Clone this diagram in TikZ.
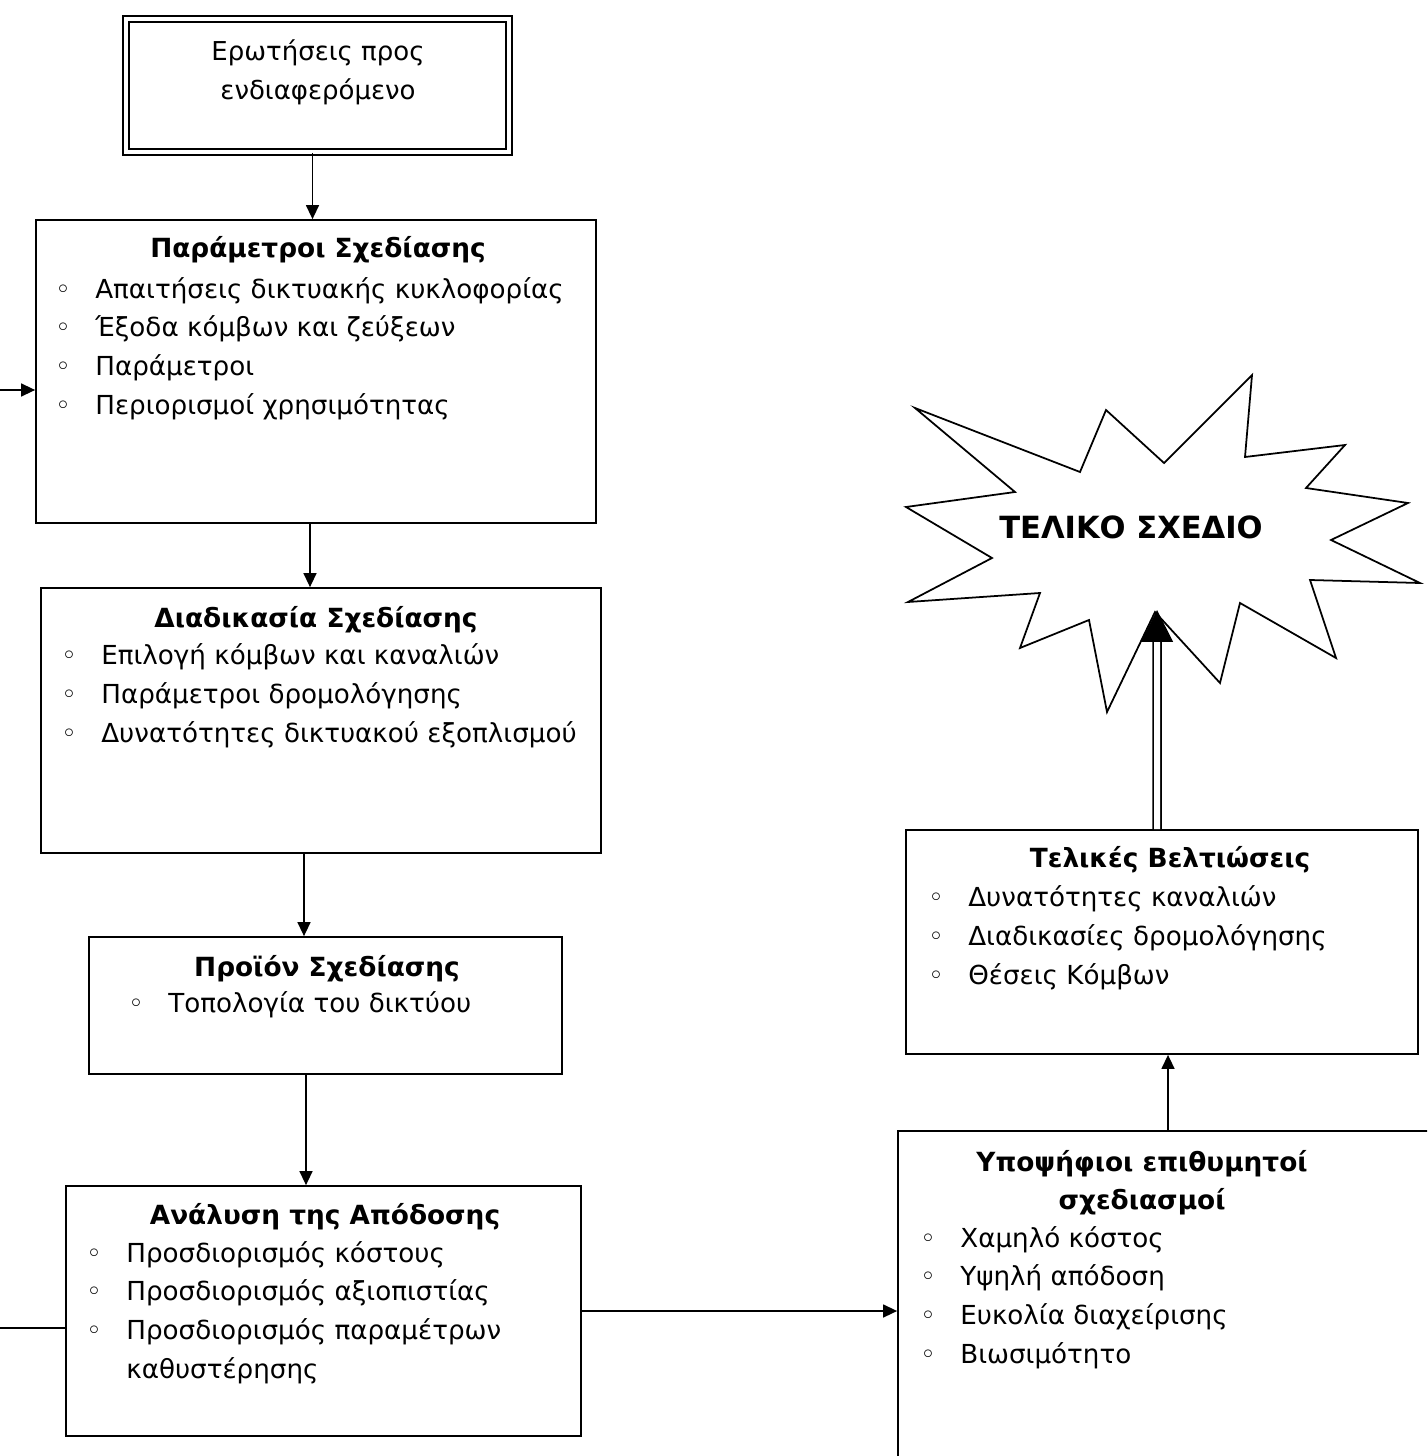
\documentclass[tikz,border=0pt]{standalone}
\usepackage{fontspec}
\setmainfont{DejaVu Sans}
\usepackage{tikz}
\usetikzlibrary{positioning, calc, arrows.meta, fit}

\newcommand{\bul}{\makebox[0.8cm][l]{◦}}
\newcommand{\nobul}{\makebox[0.8cm][l]{}}

\begin{document}
\begin{tikzpicture}[
    x=0.02cm, y=-0.02cm,
    box/.style={draw, line width=1pt, inner sep=0pt},
    qbox/.style={draw, double, double distance=0.08cm, line width=0.9pt, inner sep=0pt},
    boxtitle/.style={anchor=base, align=center, inner sep=0pt, font=\fontsize{15}{21.5}\selectfont\bfseries},
    itemlist/.style={anchor=base west, align=left, inner sep=0pt, font=\fontsize{14.9}{22}\selectfont},
    arr/.style={line width=0.8pt, -{Triangle[length=0.28cm, width=0.26cm]}},
    link/.style={line width=0.8pt},
  ]
    \useasboundingbox (0,0) rectangle (1427,1456);
    \clip (0,0) rectangle (1427,1456);
    % stakeholder questions (base = last line)
    \node[qbox, fit={(126,19) (509,152)}] (q) {};
    \node[anchor=base, align=center, inner sep=0pt, font=\fontsize{14.8}{22.7}\selectfont] (qtext) at (318,100) {Ερωτήσεις προς\\ενδιαφερόμενο};
    % design parameters
    \node[box, fit={(36,220) (596,523)}] (par) {};
    \node[boxtitle] (partitle) at (318,258) {Παράμετροι Σχεδίασης};
    \node[itemlist] (paritems) at (55,414) {\bul Απαιτήσεις δικτυακής κυκλοφορίας\\ \bul Έξοδα κόμβων και ζεύξεων\\ \bul Παράμετροι\\ \bul Περιορισμοί χρησιμότητας};
    % design procedure
    \node[box, fit={(41,588) (601,853)}] (proc) {};
    \node[boxtitle] (proctitle) at (316,627) {Διαδικασία Σχεδίασης};
    \node[itemlist] (procitems) at (61,742) {\bul Επιλογή κόμβων και καναλιών\\ \bul Παράμετροι δρομολόγησης\\ \bul Δυνατότητες δικτυακού εξοπλισμού};
    % design product
    \node[box, fit={(89,937) (562,1074)}] (prod) {};
    \node[boxtitle] (prodtitle) at (327,976) {Προϊόν Σχεδίασης};
    \node[itemlist] (proditems) at (128,1012) {\bul Τοπολογία του δικτύου};
    % performance analysis
    \node[box, fit={(66,1186) (581,1436)}] (anal) {};
    \node[boxtitle] (analtitle) at (325,1224) {Ανάλυση της Απόδοσης};
    \node[itemlist] (analitems) at (86,1378) {\bul Προσδιορισμός κόστους\\ \bul Προσδιορισμός αξιοπιστίας\\ \bul Προσδιορισμός παραμέτρων\\ \nobul καθυστέρησης};
    % candidate designs
    \node[box, fit={(898,1131) (1460,1480)}] (cand) {};
    \node[boxtitle] (candtitle) at (1142,1209) {Υποψήφιοι επιθυμητοί\\σχεδιασμοί};
    \node[itemlist] (canditems) at (920,1363) {\bul Χαμηλό κόστος\\ \bul Υψηλή απόδοση\\ \bul Ευκολία διαχείρισης\\ \bul Βιωσιμότητο};
    % final improvements
    \node[box, fit={(906,830) (1418,1054)}] (fin) {};
    \node[boxtitle] (fintitle) at (1170,867) {Τελικές Βελτιώσεις};
    \node[itemlist] (finitems) at (928,984) {\bul Δυνατότητες καναλιών\\ \bul Διαδικασίες δρομολόγησης\\ \bul Θέσεις Κόμβων};
    % final design burst
    \draw[line width=1pt, line join=miter] (915,408) -- (1015,492) -- (906,507) -- (992,558)
      -- (908,602) -- (1040,593) -- (1020,648) -- (1089,620) -- (1107,712) -- (1155,612)
      -- (1220,683) -- (1240,603) -- (1336,658) -- (1310,580) -- (1420,583) -- (1331,540)
      -- (1408,503) -- (1306,488) -- (1345,445) -- (1245,457) -- (1252,375) -- (1164,463)
      -- (1106,410) -- (1080,472) -- cycle;
    \node[font=\fontsize{17.4}{20}\selectfont\bfseries] (star) at (1131,527) {ΤΕΛΙΚΟ ΣΧΕΔΙΟ};
    \coordinate (startip) at (1157,610);
    % connectors
    \draw[arr] ([xshift=-0.1cm]q.south) -- ([xshift=-0.1cm]q.south |- par.north);
    \coordinate (parin) at (0,390);
    \draw[arr] (parin) -- (parin -| par.west);
    \draw[arr] ([xshift=-0.12cm]par.south) -- ([xshift=-0.12cm]par.south |- proc.north);
    \draw[arr] ([xshift=-0.34cm]proc.south) -- ([xshift=-0.34cm]proc.south |- prod.north);
    \draw[arr] ([xshift=-0.39cm]prod.south) -- ([xshift=-0.39cm]prod.south |- anal.north);
    \coordinate (analin) at (0,1328);
    \draw[link] (analin) -- (analin -| anal.west);
    \draw[arr] (anal.east) -- (anal.east -| cand.west);
    \draw[arr] ([xshift=0.12cm]fin.south |- cand.north) -- ([xshift=0.12cm]fin.south);
    \draw[line width=1pt, double, double distance=0.12cm, -{Triangle[length=0.64cm, width=0.64cm]}] ([xshift=-0.1cm]fin.north) -- (startip);
  \end{tikzpicture}
\end{document}
